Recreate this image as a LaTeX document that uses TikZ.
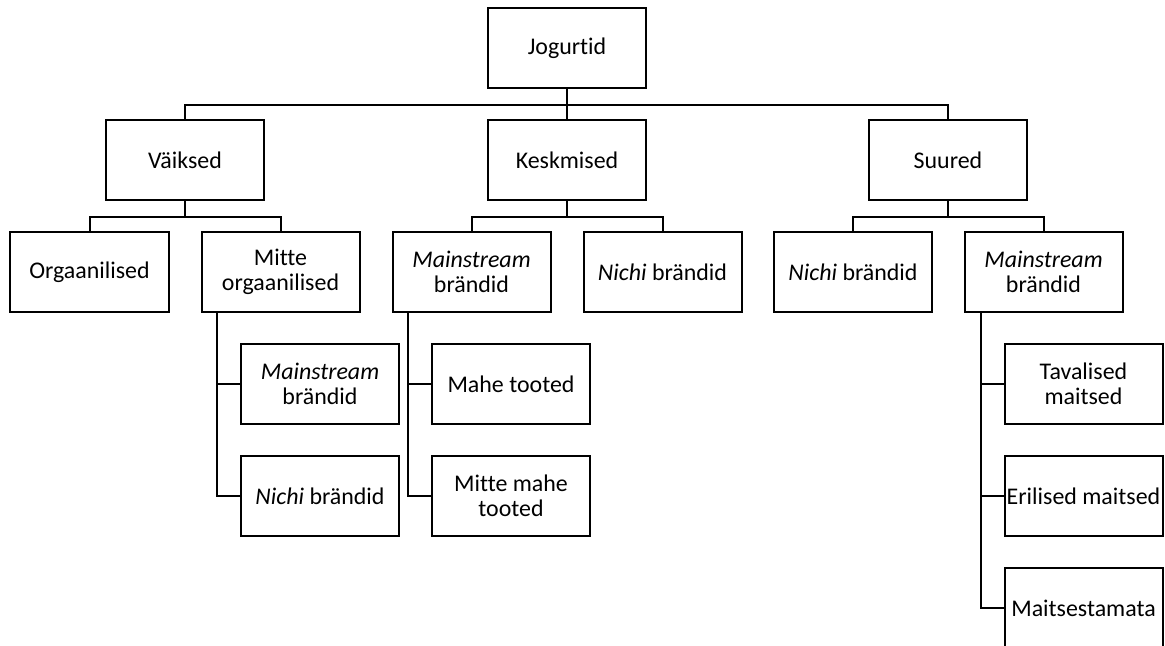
\documentclass[tikz,border=0pt]{standalone}
\usepackage{fontspec}
\setmainfont{Carlito}[Ligatures=NoCommon]
\begin{document}
\begin{tikzpicture}[x=1bp,y=-1bp,
  box/.style={draw=black,line width=2bp,minimum width=158bp,minimum height=80bp,inner sep=0pt,align=center,
    font=\fontsize{24}{25.5}\selectfont},
  conn/.style={draw=black,line width=2bp,line join=miter}]
\useasboundingbox (0,0) rectangle (1165,646);
\node[box] (J) at (567,48) {Jogurtid};
\node[box] (V) at (185,160.5) {Väiksed};
\node[box] (K) at (567,160.5) {Keskmised};
\node[box] (S) at (948,160.5) {Suured};
\node[box] (Org) at (89.5,272) {Orgaanilised};
\node[box] (MO) at (280.5,272) {Mitte\\orgaanilised};
\node[box] (KM) at (471.5,272) {\textit{Mainstream}\\brändid};
\node[box] (KN) at (662.5,272) {\textit{Nichi} brändid};
\node[box] (SN) at (853,272) {\textit{Nichi} brändid};
\node[box] (SM) at (1043.5,272) {\textit{Mainstream}\\brändid};
\node[box] (MOa) at (320,384) {\textit{Mainstream}\\brändid};
\node[box] (MOb) at (320,496) {\textit{Nichi} brändid};
\node[box] (KMa) at (511,384) {Mahe tooted};
\node[box] (KMb) at (511,496) {Mitte mahe\\tooted};
\node[box] (SMa) at (1083.5,384) {Tavalised\\maitsed};
\node[box] (SMb) at (1083.5,496) {Erilised maitsed};
\node[box] (SMc) at (1083.5,608) {Maitsestamata};
% level 0 -> 1
\draw[conn] (J.south) -- ++(0,16) coordinate (jb);
\draw[conn] (V.north) |- (jb) -| (S.north);
\draw[conn] (jb) -- (K.north);
% level 1 -> 2
\draw[conn] (V.south) -- ++(0,16) coordinate (vb);
\draw[conn] (Org.north) |- (vb) -| (MO.north);
\draw[conn] (K.south) -- ++(0,16) coordinate (kb);
\draw[conn] (KM.north) |- (kb) -| (KN.north);
\draw[conn] (S.south) -- ++(0,16) coordinate (sb);
\draw[conn] (SN.north) |- (sb) -| (SM.north);
% side children
\path (MO.south west) ++(16,0) coordinate (mo);
\draw[conn] (mo) |- (MOb.west);
\draw[conn] (mo) |- (MOa.west);
\path (KM.south west) ++(16,0) coordinate (km);
\draw[conn] (km) |- (KMb.west);
\draw[conn] (km) |- (KMa.west);
\path (SM.south west) ++(17,0) coordinate (sm);
\draw[conn] (sm) |- (SMc.west);
\draw[conn] (sm) |- (SMb.west);
\draw[conn] (sm) |- (SMa.west);
\end{tikzpicture}
\end{document}
